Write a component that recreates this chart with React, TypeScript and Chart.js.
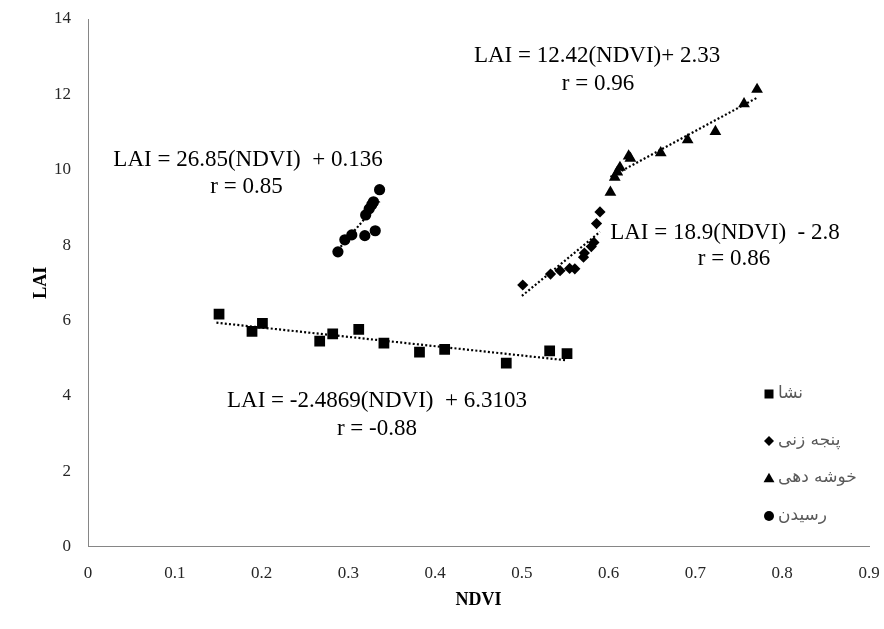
import React, { useEffect, useRef } from 'react';
import { Chart, registerables } from 'chart.js';

Chart.register(...registerables);

// ---- Data ----
const seriesNames = ['نشا', 'پنجه زنی', 'خوشه دهی', 'رسیدن'];

const nashaNDVI = [0.151, 0.189, 0.201, 0.267, 0.282, 0.312, 0.341, 0.382, 0.411, 0.482, 0.532, 0.552];
const nashaLAI = [6.17, 5.71, 5.92, 5.45, 5.64, 5.76, 5.40, 5.16, 5.23, 4.87, 5.19, 5.12];

const panjeNDVI = [0.501, 0.533, 0.544, 0.555, 0.561, 0.571, 0.572, 0.580, 0.583, 0.586, 0.590];
const panjeLAI = [6.94, 7.23, 7.32, 7.38, 7.37, 7.68, 7.79, 7.96, 8.07, 8.57, 8.88];

const khusheNDVI = [0.602, 0.607, 0.610, 0.613, 0.623, 0.625, 0.660, 0.691, 0.723, 0.756, 0.771];
const khusheLAI = [9.40, 9.80, 9.94, 10.06, 10.36, 10.30, 10.45, 10.79, 11.01, 11.75, 12.13];

const residanNDVI = [0.288, 0.296, 0.304, 0.319, 0.331, 0.320, 0.324, 0.327, 0.329, 0.336];
const residanLAI = [7.82, 8.14, 8.27, 8.25, 8.38, 8.80, 8.96, 9.07, 9.15, 9.47];

// trendline end points
const nashaTrendNDVI = [0.148, 0.552];
const nashaTrendLAI = [5.94, 4.94];
const panjeTrendNDVI = [0.5, 0.59];
const panjeTrendLAI = [6.65, 8.35];
const khusheTrendNDVI = [0.602, 0.771];
const khusheTrendLAI = [9.81, 11.91];
const residanTrendNDVI = [0.288, 0.336];
const residanTrendLAI = [7.87, 9.16];

const xTicks = [0, 0.1, 0.2, 0.3, 0.4, 0.5, 0.6, 0.7, 0.8, 0.9];
const yTicks = [0, 2, 4, 6, 8, 10, 12, 14];

const equationTexts = [
  'LAI = 12.42(NDVI)+ 2.33',
  'r = 0.96',
  'LAI = 26.85(NDVI)  + 0.136',
  'r = 0.85',
  'LAI = 18.9(NDVI)  - 2.8',
  'r = 0.86',
  'LAI = -2.4869(NDVI)  + 6.3103',
  'r = -0.88',
];

// label anchor positions (in data units), kept apart from the data
const labelAnchors = [
  [0.5866, 13.02],
  [0.5877, 12.28],
  [0.1844, 10.27],
  [0.1827, 9.555],
  [0.734, 8.33],
  [0.7444, 7.62],
  [0.333, 3.87],
  [0.333, 3.13],
];

const toPoints = (xs: number[], ys: number[]) => xs.map((x, i) => ({ x, y: ys[i] }));

const SERIF = '"Liberation Serif", "Times New Roman", serif';

function drawShape(ctx: CanvasRenderingContext2D, style: string, x: number, y: number, r: number) {
  ctx.beginPath();
  if (style === 'rect') {
    ctx.rect(x - r, y - r, 2 * r, 2 * r);
  } else if (style === 'rectRot') {
    ctx.moveTo(x - r, y);
    ctx.lineTo(x, y - r);
    ctx.lineTo(x + r, y);
    ctx.lineTo(x, y + r);
    ctx.closePath();
  } else if (style === 'triangle') {
    ctx.moveTo(x, y - r);
    ctx.lineTo(x + r * 1.05, y + r * 0.8);
    ctx.lineTo(x - r * 1.05, y + r * 0.8);
    ctx.closePath();
  } else {
    ctx.arc(x, y, r, 0, Math.PI * 2);
  }
  ctx.fill();
}

const legendPlugin = {
  id: 'customLegend',
  afterDraw(chart: any) {
    const ctx = chart.ctx as CanvasRenderingContext2D;
    const ys = [394, 441, 478, 516];
    const styles = ['rect', 'rectRot', 'triangle', 'circle'];
    const sizes = [4.5, 5, 5.2, 5];
    ctx.save();
    ctx.font = '17px "DejaVu Sans", sans-serif';
    ctx.textBaseline = 'middle';
    ctx.textAlign = 'left';
    seriesNames.forEach((name, i) => {
      ctx.fillStyle = '#000';
      drawShape(ctx, styles[i], 769, ys[i], sizes[i]);
      ctx.fillStyle = '#595959';
      ctx.fillText(name, 778, ys[i]);
    });
    ctx.restore();
  },
};

const equationPlugin = {
  id: 'equations',
  afterDatasetsDraw(chart: any) {
    const ctx = chart.ctx as CanvasRenderingContext2D;
    const xs = chart.scales.x;
    const ys = chart.scales.y;
    ctx.save();
    ctx.font = '23px ' + SERIF;
    ctx.fillStyle = '#000';
    ctx.textAlign = 'center';
    ctx.textBaseline = 'middle';
    equationTexts.forEach((t, i) => {
      const [vx, vy] = labelAnchors[i];
      ctx.fillText(t, xs.getPixelForValue(vx), ys.getPixelForValue(vy));
    });
    ctx.restore();
  },
};

export default function App() {
  const canvasRef = useRef<HTMLCanvasElement | null>(null);

  useEffect(() => {
    if (!canvasRef.current) return;
    const markerBase = {
      type: 'scatter' as const,
      backgroundColor: '#000',
      borderColor: '#000',
      borderWidth: 0,
      showLine: false,
    };
    const trendBase = {
      type: 'scatter' as const,
      showLine: true,
      borderColor: '#000',
      borderWidth: 2.2,
      borderDash: [2, 2.2],
      pointRadius: 0,
      fill: false,
    };
    const chart = new Chart(canvasRef.current, {
      type: 'scatter',
      data: {
        datasets: [
          { ...markerBase, label: seriesNames[0], data: toPoints(nashaNDVI, nashaLAI), pointStyle: 'rect', pointRadius: 7.6 },
          { ...markerBase, label: seriesNames[1], data: toPoints(panjeNDVI, panjeLAI), pointStyle: 'rectRot', pointRadius: 5.6 },
          { ...markerBase, label: seriesNames[2], data: toPoints(khusheNDVI, khusheLAI), pointStyle: 'triangle', pointRadius: 6.8 },
          { ...markerBase, label: seriesNames[3], data: toPoints(residanNDVI, residanLAI), pointStyle: 'circle', pointRadius: 5.6 },
          { ...trendBase, label: 't1', data: toPoints(nashaTrendNDVI, nashaTrendLAI) },
          { ...trendBase, label: 't2', data: toPoints(panjeTrendNDVI, panjeTrendLAI) },
          { ...trendBase, label: 't3', data: toPoints(khusheTrendNDVI, khusheTrendLAI) },
          { ...trendBase, label: 't4', data: toPoints(residanTrendNDVI, residanTrendLAI) },
        ],
      },
      options: {
        animation: false,
        responsive: true,
        maintainAspectRatio: false,
        events: [],
        layout: { padding: { left: 0, top: 19, right: 15, bottom: 0 } },
        plugins: {
          legend: { display: false },
          tooltip: { enabled: false },
        },
        scales: {
          x: {
            type: 'linear',
            min: 0,
            max: 0.9,
            afterBuildTicks: (scale: any) => {
              scale.ticks = xTicks.map((v) => ({ value: v }));
            },
            afterFit: (scale: any) => {
              scale.height = 82.5;
              scale.paddingLeft = 0;
              scale.paddingRight = 0;
            },
            grid: { display: false, drawTicks: false },
            border: { display: true, color: '#868686', width: 1 },
            ticks: {
              padding: 17,
              color: '#262626',
              font: { family: SERIF, size: 17 },
              maxRotation: 0,
              callback: (v: any) => String(Math.round(Number(v) * 10) / 10),
            },
            title: {
              display: true,
              text: 'NDVI',
              color: '#000',
              font: { family: SERIF, size: 18, weight: 'bold' },
              padding: { top: 0, bottom: 18 },
            },
          },
          y: {
            type: 'linear',
            min: 0,
            max: 14,
            afterBuildTicks: (scale: any) => {
              scale.ticks = yTicks.map((v) => ({ value: v }));
            },
            afterFit: (scale: any) => {
              scale.width = 88;
              scale.paddingTop = 0;
              scale.paddingBottom = 0;
            },
            grid: { display: false, drawTicks: false },
            border: { display: true, color: '#868686', width: 1 },
            ticks: {
              padding: 17,
              color: '#262626',
              font: { family: SERIF, size: 17 },
            },
            title: {
              display: true,
              text: 'LAI',
              color: '#000',
              font: { family: SERIF, size: 18, weight: 'bold' },
              padding: { top: 31, bottom: 0 },
            },
          },
        },
      },
      plugins: [equationPlugin, legendPlugin],
    });
    return () => chart.destroy();
  }, []);

  return (
    <div style={{ position: 'fixed', left: 0, top: 0, width: '884px', height: '629px', background: '#fff' }}>
      <canvas ref={canvasRef} />
    </div>
  );
}
